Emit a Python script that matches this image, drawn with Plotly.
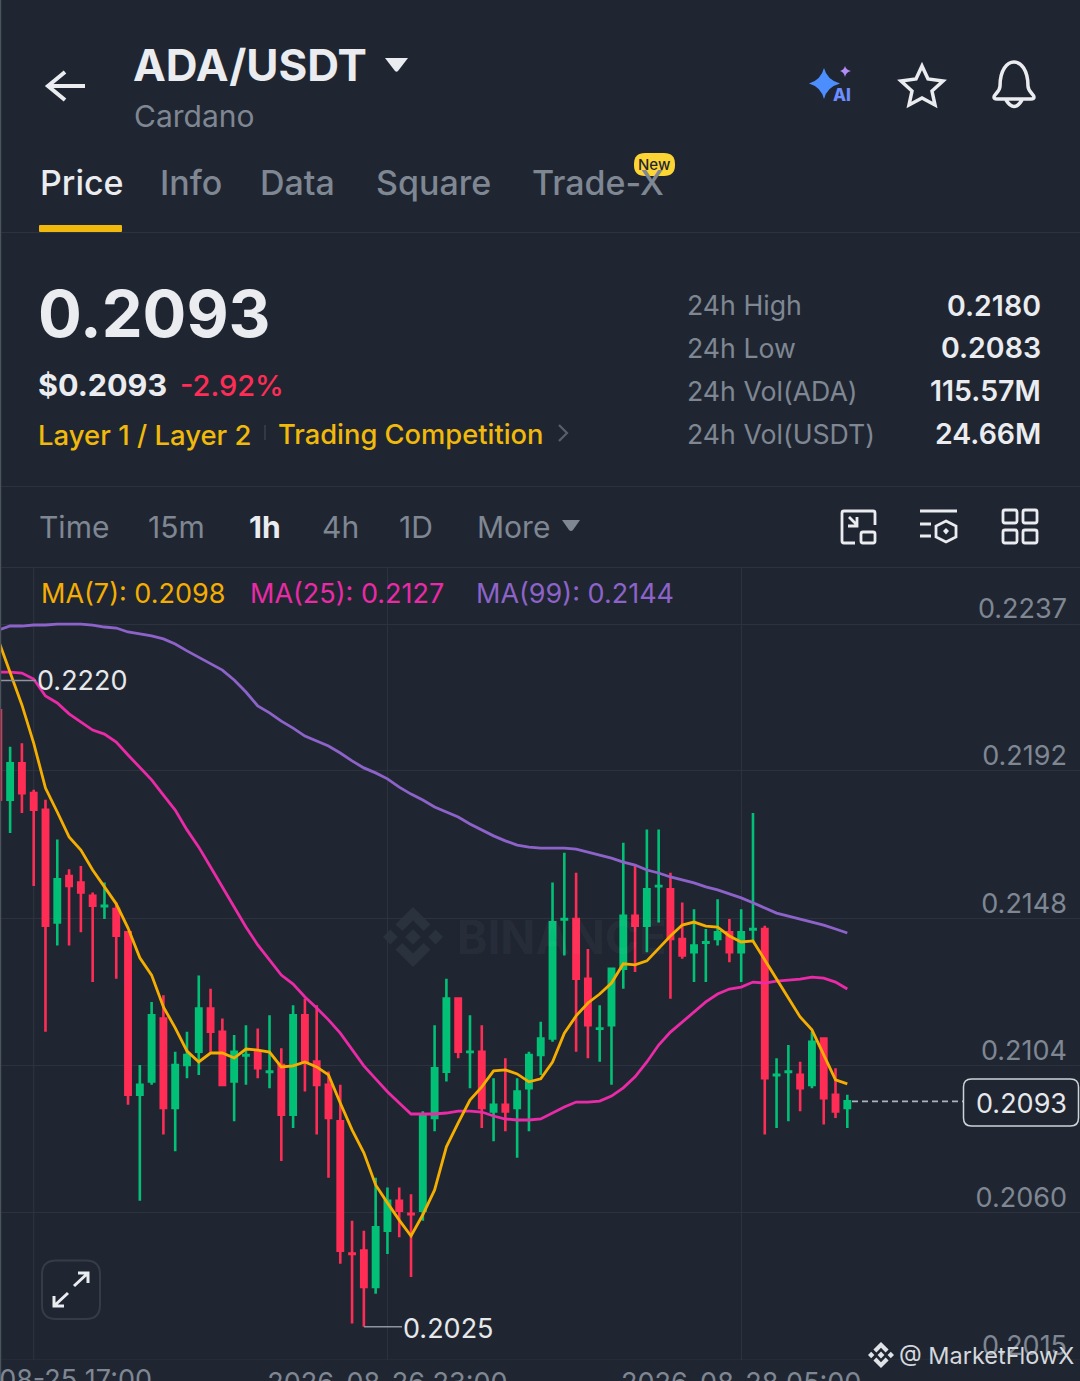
import re
import pandas as pd
import plotly.graph_objects as go

OPEN = [0.2211,0.2184,0.2195,0.2186,0.2181,0.2147,0.2161,0.2159,0.2155,0.21519,0.2151,0.2144,0.2095,0.2099,0.2118,0.2091,0.2104,0.2108,0.2121,0.2114,0.2099,0.21069,0.2108,0.21019,0.2104,0.2089,0.2119,0.2105,0.2098,0.2087,0.20471,0.2048,0.2037,0.2054,0.2063,0.20591,0.2060,0.2088,0.2102,0.2124,0.21079,0.2108,0.2090,0.2092,0.2091,0.2097,0.2107,0.2112,0.21479,0.2148,0.2130,0.21149,0.2116,0.2133,0.2149,0.2146,0.21579,0.2157,0.2142,0.2138,0.21409,0.2142,0.2144,0.2138,0.21449,0.2145,0.21009,0.21019,0.2101,0.2098,0.2112,0.2095,0.2091]
HIGH = [0.2211,0.2200,0.2201,0.2187,0.2184,0.2172,0.2163,0.2164,0.2156,0.2159,0.2153,0.2144,0.2104,0.2123,0.2125,0.2108,0.2114,0.2131,0.2127,0.2118,0.2113,0.2116,0.2115,0.2119,0.2109,0.2122,0.2124,0.2122,0.2102,0.2098,0.2057,0.2054,0.2070,0.2067,0.2067,0.2065,0.2090,0.2116,0.2130,0.2124,0.2119,0.2116,0.2100,0.2106,0.2100,0.2108,0.2117,0.2159,0.2168,0.2162,0.2139,0.2122,0.2133,0.2171,0.2164,0.2175,0.2175,0.2162,0.2153,0.2151,0.2145,0.2154,0.2148,0.2151,0.2180,0.2146,0.2106,0.2110,0.2105,0.2114,0.2112,0.2103,0.2095]
LOW = [0.2184,0.2174,0.2180,0.2158,0.2114,0.2140,0.2140,0.2144,0.2129,0.2148,0.2130,0.2092,0.2063,0.2098,0.2083,0.2078,0.2100,0.2101,0.2108,0.2098,0.2087,0.2098,0.2100,0.2097,0.2075,0.2085,0.2096,0.2083,0.2070,0.2044,0.2026,0.2025,0.2035,0.2047,0.2052,0.2040,0.2057,0.2084,0.2099,0.2106,0.2097,0.2085,0.2081,0.2084,0.2076,0.2084,0.2101,0.2111,0.2137,0.2108,0.2106,0.2105,0.2098,0.2127,0.2132,0.2138,0.2147,0.2124,0.2136,0.2129,0.2129,0.2140,0.2135,0.2129,0.2141,0.2083,0.2085,0.2087,0.2090,0.2097,0.2086,0.2088,0.2085]
CLOSE = [0.2184,0.2195,0.2186,0.2181,0.2146,0.2160,0.2158,0.2156,0.2152,0.2152,0.2143,0.2095,0.2098,0.2119,0.2091,0.2104,0.2107,0.2121,0.2114,0.2098,0.2108,0.2107,0.2103,0.2102,0.2089,0.2119,0.2105,0.2098,0.2088,0.2048,0.2047,0.2037,0.2055,0.2063,0.2060,0.2059,0.2089,0.2103,0.2124,0.2108,0.2108,0.2091,0.2092,0.2090,0.2096,0.2107,0.2112,0.2147,0.2148,0.2130,0.2116,0.2115,0.2133,0.2149,0.2146,0.2157,0.2158,0.2142,0.2137,0.2140,0.2141,0.2144,0.2138,0.2144,0.2145,0.2100,0.2101,0.2102,0.2097,0.2111,0.2094,0.2090,0.2093]
MA7 = [0.22322,0.22222,0.22126,0.22011,0.21875,0.21803,0.21728,0.21688,0.21628,0.21577,0.21526,0.21453,0.21363,0.21311,0.21215,0.21152,0.21082,0.21049,0.21076,0.21076,0.21061,0.21088,0.21085,0.21079,0.21034,0.21037,0.21049,0.21034,0.21010,0.20925,0.20844,0.20775,0.20678,0.20624,0.20572,0.20524,0.20588,0.20663,0.20793,0.20865,0.20934,0.20974,0.21022,0.21025,0.21013,0.20989,0.20998,0.21049,0.21136,0.21188,0.21227,0.21254,0.21287,0.21345,0.21342,0.21354,0.21393,0.21429,0.21462,0.21471,0.21459,0.21456,0.21429,0.21411,0.21414,0.21357,0.21302,0.21245,0.21185,0.21146,0.21070,0.20995,0.20983]
MA25 = [0.22225,0.22225,0.22222,0.22204,0.22153,0.22132,0.22099,0.22074,0.22050,0.22038,0.22014,0.21975,0.21936,0.21900,0.21854,0.21809,0.21749,0.21697,0.21637,0.21577,0.21516,0.21456,0.21402,0.21357,0.21311,0.21284,0.21245,0.21212,0.21176,0.21136,0.21085,0.21037,0.20998,0.20959,0.20925,0.20892,0.20892,0.20892,0.20895,0.20901,0.20901,0.20898,0.20886,0.20877,0.20874,0.20874,0.20877,0.20895,0.20913,0.20928,0.20928,0.20931,0.20946,0.20971,0.21004,0.21049,0.21100,0.21139,0.21170,0.21200,0.21230,0.21254,0.21269,0.21275,0.21290,0.21287,0.21293,0.21296,0.21299,0.21305,0.21302,0.21290,0.21269]
MA99 = [0.22352,0.22364,0.22364,0.22367,0.22367,0.22370,0.22370,0.22370,0.22367,0.22361,0.22358,0.22346,0.22340,0.22334,0.22325,0.22310,0.22289,0.22270,0.22252,0.22231,0.22201,0.22165,0.22123,0.22102,0.22077,0.22056,0.22032,0.22017,0.22002,0.21981,0.21957,0.21936,0.21921,0.21903,0.21878,0.21857,0.21839,0.21818,0.21803,0.21788,0.21767,0.21749,0.21731,0.21716,0.21703,0.21697,0.21694,0.21694,0.21694,0.21691,0.21682,0.21673,0.21664,0.21652,0.21643,0.21628,0.21619,0.21607,0.21598,0.21589,0.21577,0.21568,0.21556,0.21544,0.21529,0.21513,0.21498,0.21489,0.21480,0.21471,0.21462,0.21450,0.21438]
Y_TICKS = [0.2237, 0.21927, 0.21483, 0.21039, 0.20596]
Y_LABELS = ["0.2237", "0.2192", "0.2148", "0.2104", "0.2060"]
Y_BOTTOM = 0.2015
X_TICKS = ["2026-08-26 23:00", "2026-08-28 05:00"]
X_GRID_FIRST = "2026-08-25 17:00"
LAST_PRICE = 0.2093
HIGH_MARK = 0.2220
LOW_MARK = 0.2025
STATS = [("24h High", "0.2180"), ("24h Low", "0.2083"), ("24h Vol(ADA)", "115.57M"), ("24h Vol(USDT)", "24.66M")]
TABS = [("Price", 41), ("Info", 161), ("Data", 261), ("Square", 377), ("Trade-X", 533)]
INTERVALS = [("Time", 40), ("15m", 149), ("1h", 250), ("4h", 323), ("1D", 400), ("More", 478)]

W, H = 1080, 1381
BG = "#1f2632"
GRID = "#2c333f"
GREEN = "#02C076"
RED = "#FF2D55"
YEL = "#F0B90B"
GRAY = "#7f8792"
WHITE = "#eaecef"
FONT = "Inter"
TIMES = pd.date_range("2026-08-25 14:00", periods=len(OPEN), freq="h")

fig = go.Figure()
fig.add_trace(go.Candlestick(
    x=TIMES, open=OPEN, high=HIGH, low=LOW, close=CLOSE, whiskerwidth=0, showlegend=False,
    increasing=dict(line=dict(color=GREEN, width=2.6), fillcolor=GREEN),
    decreasing=dict(line=dict(color=RED, width=2.6), fillcolor=RED),
))
for name, vals, col in [("MA(99)", MA99, "#8d63c9"), ("MA(25)", MA25, "#ea2aa6"), ("MA(7)", MA7, "#F5AE00")]:
    fig.add_trace(go.Scatter(x=TIMES, y=vals, mode="lines", name=name, showlegend=False,
                             line=dict(color=col, width=2.8), hoverinfo="skip"))

px = lambda x: x / W
py = lambda y: 1 - y / H

def P(d):
    """Turn an SVG path written in screen pixels into paper coordinates."""
    def rep(m):
        return f"{px(float(m.group(1))):.5f},{py(float(m.group(2))):.5f}"
    return re.sub(r"(-?[\d.]+)[ ,]+(-?[\d.]+)", rep, d)

shapes = []
def stroke(d, color=WHITE, width=3, fill=None, layer="above", dash=None):
    line = dict(color=color, width=width)
    if dash:
        line["dash"] = dash
    shapes.append(dict(type="path", xref="paper", yref="paper", path=P(d), line=line,
                       fillcolor=fill or "rgba(0,0,0,0)", layer=layer))

def solid(d, color, layer="above"):
    shapes.append(dict(type="path", xref="paper", yref="paper", path=P(d), line=dict(width=0),
                       fillcolor=color, layer=layer))

def rrect(x0, y0, x1, y1, r):
    return (f"M {x0+r} {y0} L {x1-r} {y0} Q {x1} {y0} {x1} {y0+r} L {x1} {y1-r} Q {x1} {y1} {x1-r} {y1} "
            f"L {x0+r} {y1} Q {x0} {y1} {x0} {y1-r} L {x0} {y0+r} Q {x0} {y0} {x0+r} {y0} Z")

def logo(cx, cy, r, color, layer="above"):
    u = r / 13.0
    def pts(lst):
        return "M " + " L ".join(f"{cx+a*u:.2f} {cy+b*u:.2f}" for a, b in lst) + " Z"
    solid(pts([(0, -3.4), (3.4, 0), (0, 3.4), (-3.4, 0)]), color, layer)
    solid(pts([(-13, 0), (-9.8, -3.2), (-6.6, 0), (-9.8, 3.2)]), color, layer)
    solid(pts([(13, 0), (9.8, -3.2), (6.6, 0), (9.8, 3.2)]), color, layer)
    solid(pts([(0, -13), (7.6, -5.4), (4.6, -2.6), (0, -7.2), (-4.6, -2.6), (-7.6, -5.4)]), color, layer)
    solid(pts([(0, 13), (7.6, 5.4), (4.6, 2.6), (0, 7.2), (-4.6, 2.6), (-7.6, 5.4)]), color, layer)

ann = []
def text(x, y, s, size=28, color=WHITE, anchor="left", weight=400, yanchor="middle", font=FONT):
    nudge = {"left": -2, "right": 2}.get(anchor, 0)
    ann.append(dict(xref="paper", yref="paper", x=px(x + nudge), y=py(y), text=s, showarrow=False,
                    xanchor=anchor, yanchor=yanchor, borderpad=0,
                    font=dict(family=font, size=size, color=color, weight=weight)))

# header
stroke("M 85 86 L 49 86 M 65 72 L 48 86 L 65 100", WHITE, 4)
text(134, 65, "ADA/USDT", 44, WHITE, weight=700)
solid("M 385 58 L 408 58 L 398 71 Q 396.5 72.5 395 71 Z", WHITE)
text(135, 116, "Cardano", 30, GRAY)
solid("M 824 68 Q 827 80 840 83.5 Q 827 87 824 99 Q 821 87 809 83.5 Q 821 80 824 68 Z", "#4d8eff")
solid("M 845 66 Q 846 70 851 71 Q 846 72 845 77 Q 844 72 840 71 Q 844 70 845 66 Z", "#b58cf5")
text(834, 95, "AI", 17, "#6b8dff", weight=800)
stroke("M 922 66 L 928 79 L 943 81 L 932 91 L 935 105 L 922 98 L 909 105 L 912 91 L 901 81 L 916 79 Z", WHITE, 3.5)
stroke("M 1000 86 C 1000 54 1028 54 1028 86 C 1028 92 1034 94 1034 97 Q 1034 99 1031 99 L 997 99 Q 994 99 994 97 "
       "C 994 94 1000 92 1000 86 Z M 1006 100 Q 1014 113 1022 100", WHITE, 3.5)
for label, x in TABS:
    text(x, 183, label, 34, WHITE if label == "Price" else GRAY, weight=500)
solid(rrect(39, 225, 122, 232, 1), YEL)
solid(rrect(634, 153, 675, 176, 11), "#FCD535")
text(654.5, 164.5, "New", 15, "#1f2632", anchor="center", weight=500)
stroke("M 0 232.5 L 1080 232.5", GRID, 1.2)

# price block
text(39, 313, "0.2093", 65, WHITE, weight=700)
text(39, 384, "$0.2093", 30.5, WHITE, weight=700)
text(181, 385, "-2.92%", 29, RED, weight=500)
text(39, 434.5, "Layer 1 / Layer 2", 27.5, YEL, weight=500)
stroke("M 265 425 L 265 440", "#3a414c", 1.5)
text(279, 434.5, "Trading Competition", 27.3, YEL, weight=500)
stroke("M 559 425 L 567 433 L 559 441", "#59606b", 2.2)
for k, (lab, val) in enumerate(STATS):
    yy = 305 + k * 43
    text(688, yy, lab, 26.7, GRAY)
    text(1040, yy, val, 28.5, WHITE, anchor="right", weight=600)
stroke("M 0 486.5 L 1080 486.5", GRID, 1.2)

# interval bar
for label, x in INTERVALS:
    text(x, 527, label, 30, WHITE if label == "1h" else GRAY, weight=700 if label == "1h" else 400)
solid("M 562 520 L 580 520 L 573 530 Q 571 532 569 530 Z", GRAY)
stroke("M 875 525 L 875 513 Q 875 511 873 511 L 844 511 Q 842 511 842 513 L 842 541 Q 842 543 844 543 L 855 543", WHITE, 2.8)
stroke(rrect(861, 532, 875, 543, 2), WHITE, 2.8)
stroke("M 849 517 L 857 525 M 857 517 L 857 526 L 848 526", WHITE, 2.8)
stroke("M 920 511 L 957 511 M 920 524 L 931 524 M 920 536 L 931 536", WHITE, 2.8)
stroke("M 946 521 L 956 526 L 956 537 L 946 542 L 936 537 L 936 526 Z", WHITE, 2.8)
solid("M 946 528 L 949 531 L 946 534.5 L 943 531 Z", WHITE)
for a, b in [(1003, 510), (1023, 510), (1003, 530), (1023, 530)]:
    stroke(rrect(a, b, a + 14, b + 13, 2), WHITE, 2.8)
stroke("M 0 567.5 L 1080 567.5", GRID, 1.2)
for s, x, c in [("MA(7): 0.2098", 42, "#F5AE00"), ("MA(25): 0.2127", 251, "#ea2aa6"), ("MA(99): 0.2144", 477, "#8d63c9")]:
    text(x, 594, s, 27, c)

# marks on the chart
shapes.append(dict(type="line", xref="x", yref="paper", x0=X_GRID_FIRST, x1=X_GRID_FIRST, y0=py(1360), y1=py(568),
                   line=dict(color=GRID, width=1.2), layer="below"))
shapes.append(dict(type="line", xref="paper", yref="y", x0=0, x1=1, y0=Y_BOTTOM, y1=Y_BOTTOM,
                   line=dict(color=GRID, width=1.2), layer="below"))
text(36, 1379, X_GRID_FIRST, 27, GRAY, anchor="center")
text(1066, 1345, f"{Y_BOTTOM:.4f}", 27, GRAY, anchor="right")
shapes.append(dict(type="line", xref="paper", yref="y", x0=0, x1=px(36), y0=HIGH_MARK, y1=HIGH_MARK,
                   line=dict(color="#8f959e", width=1.5)))
shapes.append(dict(type="line", xref="paper", yref="y", x0=px(364), x1=px(402), y0=LOW_MARK, y1=LOW_MARK,
                   line=dict(color="#8f959e", width=1.5)))
shapes.append(dict(type="line", xref="paper", yref="y", x0=px(852), x1=px(963), y0=LAST_PRICE, y1=LAST_PRICE,
                   line=dict(color="#aeb4bc", width=1.7, dash="6px,4px")))
stroke(rrect(963.5, 1079, 1078.5, 1126, 8), "#cfd3d8", 1.5, BG)
for y_val, x, s, anc, ys in [(HIGH_MARK, 36, f"{HIGH_MARK:.4f}", "left", 0), (LOW_MARK, 402, f"{LOW_MARK:.4f}", "left", -2),
                             (LAST_PRICE, 1021, f"{LAST_PRICE:.4f}", "center", -2)]:
    ann.append(dict(xref="paper", yref="y", x=px(x), y=y_val, text=s, showarrow=False, xanchor=anc, yshift=ys,
                    yanchor="middle", borderpad=0, font=dict(family=FONT, size=27, color="#e6e8ea")))

# expand button
stroke(rrect(42, 1260.5, 100, 1319, 14), "#353c48", 2)
stroke("M 74 1286 L 88 1273 M 78 1273 L 88 1273 L 88 1283", WHITE, 3)
stroke("M 68 1293 L 54 1306 M 64 1306 L 54 1306 L 54 1296", WHITE, 3)

# watermarks
logo(413, 937, 30, "#2a323e", layer="below")
text(458, 937, "BINANCE", 46, "rgba(255,255,255,0.045)", weight=700)
logo(881, 1355, 13, "#dfe2e6")
text(900, 1355, "@ MarketFlowX", 23.5, "#d5d8dc")
stroke("M 0.6 0 L 0.6 1381", "#4d535c", 1.2)

fig.update_layout(
    width=W, height=H, margin=dict(l=0, r=0, t=0, b=0), autosize=False,
    paper_bgcolor=BG, plot_bgcolor=BG, boxgap=0.36, showlegend=False,
    font=dict(family=FONT, color=GRAY), shapes=shapes, annotations=ann, dragmode=False,
    xaxis=dict(type="date", range=["2026-08-25 14:08:31", "2026-08-29 09:44:00"], rangeslider=dict(visible=False),
               tickmode="array", tickvals=X_TICKS, ticktext=X_TICKS, showgrid=True, gridcolor=GRID, gridwidth=1.2,
               tickfont=dict(size=27, color=GRAY, family=FONT), ticks="", showline=False, zeroline=False,
               anchor="y", automargin=False, ticklabelstandoff=4),
    yaxis=dict(domain=[py(1360), py(568)], range=[0.2015, 0.22539], side="right", tickmode="array",
               tickvals=Y_TICKS, ticktext=Y_LABELS, ticklabelposition="inside", ticklabelshift=-15,
               ticklabelstandoff=10, showgrid=True, gridcolor=GRID, gridwidth=1.2, ticks="", showline=False,
               zeroline=False, tickfont=dict(size=27, color=GRAY, family=FONT), automargin=False),
)
fig.write_html("out.html", config=dict(displayModeBar=False),
               post_script="document.body.style.margin='0';document.body.style.overflow='hidden';")
